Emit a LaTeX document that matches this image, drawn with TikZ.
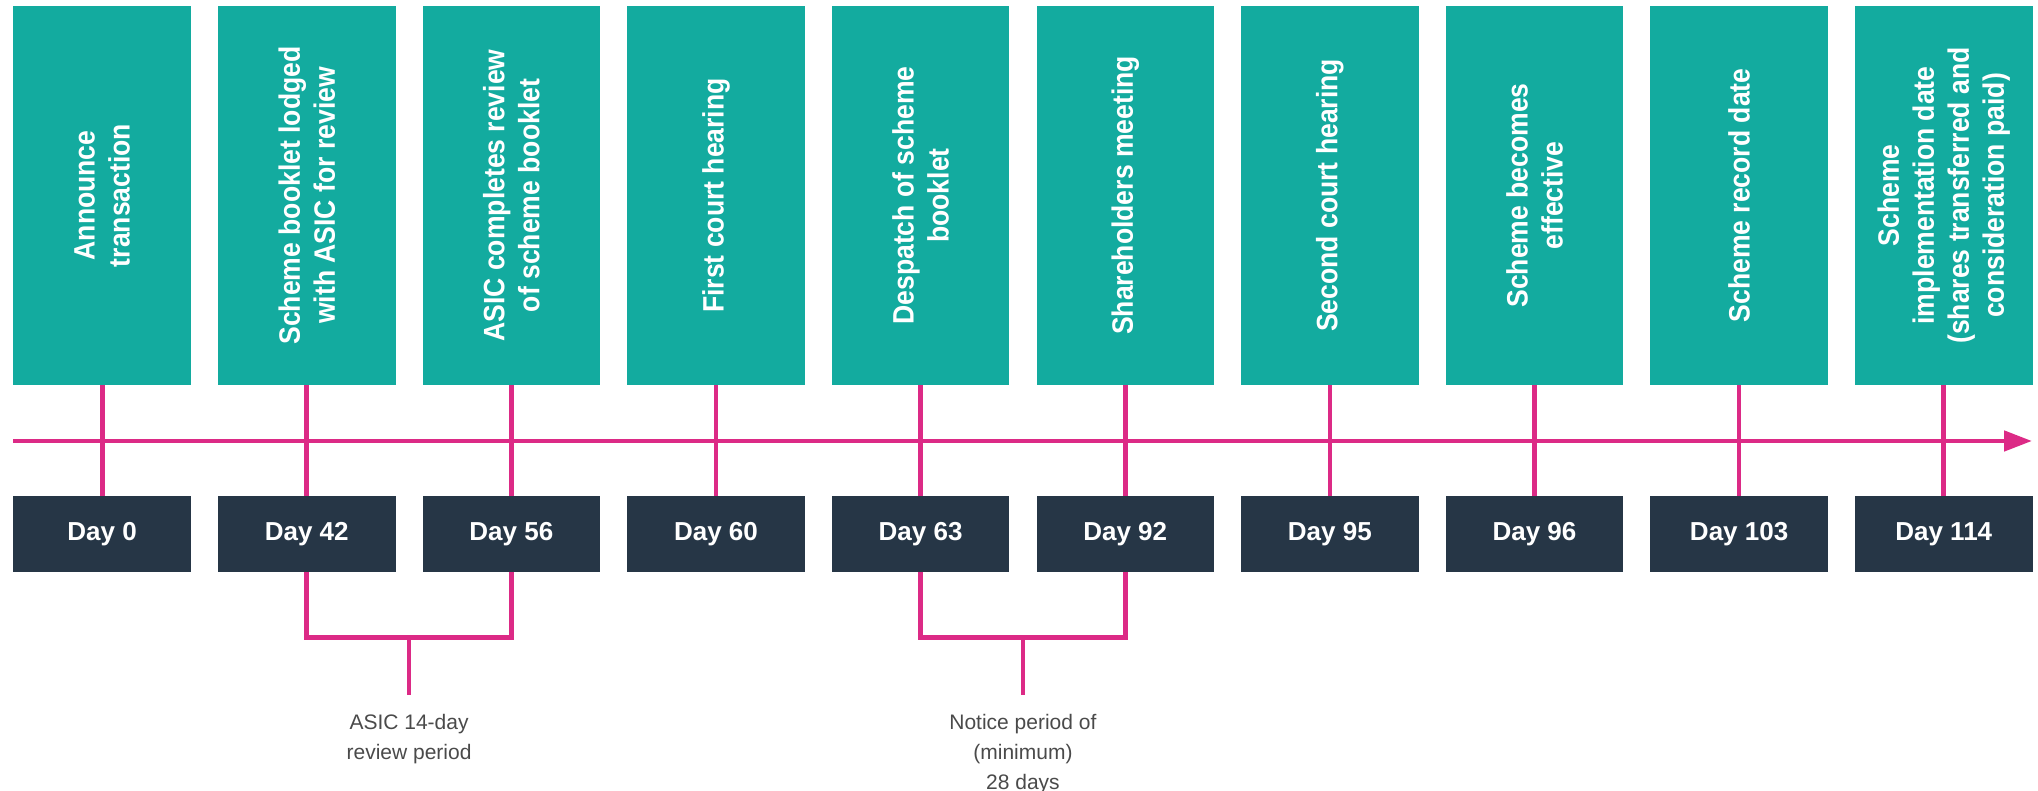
\documentclass[tikz,border=0pt]{standalone}
\usepackage{fontspec}
\setmainfont{Liberation Sans}
\newfontfamily\stagefont[FakeStretch=0.9]{Liberation Sans}
\usetikzlibrary{arrows.meta,calc}

\definecolor{stageteal}{HTML}{13AB9F}
\definecolor{daynavy}{HTML}{263646}
\definecolor{linepink}{HTML}{DC2A86}
\definecolor{notegray}{HTML}{4A4A4A}

\begin{document}
\begin{tikzpicture}[x=1pt,y=1pt,
  stagebox/.style={fill=stageteal, minimum width=177.5pt, minimum height=379pt, inner sep=0pt},
  stagetext/.style={rotate=90, text=white, inner sep=0pt,
    font=\stagefont\bfseries\fontsize{29.5}{35}\selectfont, align=center},
  daybox/.style={fill=daynavy, minimum width=177.5pt, minimum height=75.5pt, inner sep=0pt,
    text=white, font=\bfseries\fontsize{26}{30}\selectfont},
  link/.style={draw=linepink, line width=4.7pt},
  note/.style={text=notegray, inner sep=0pt, font=\fontsize{21}{30}\selectfont, align=center}]

\useasboundingbox (0,0) rectangle (2038,791);

% stage boxes with rotated captions, and the day boxes beneath them
\foreach \i/\txt/\day in {
  1/{Announce\\transaction}/0,
  2/{Scheme booklet lodged\\with ASIC for review}/42,
  3/{ASIC completes review\\of scheme booklet}/56,
  4/{First court hearing}/60,
  5/{Despatch of scheme\\booklet}/63,
  6/{Shareholders meeting}/92,
  7/{Second court hearing}/95,
  8/{Scheme becomes\\effective}/96,
  9/{Scheme record date}/103,
  10/{Scheme\\implementation date\\(shares transferred and\\consideration paid)}/114}
{
  \node[stagebox] (t\i) at ({102.15+204.62*(\i-1)}, 595.5) {};
  \node[stagetext] (s\i) at (t\i.center) {\txt};
  \node[daybox] (d\i) at ({102.15+204.62*(\i-1)}, 256.75) {Day \day};
}

% time axis
\coordinate (axisstart) at (13,350);
\coordinate (axisend) at (2032,350);
\draw[link, -{Triangle[length=28pt,width=20pt]}] (axisstart) -- (axisend);

% ticks joining each stage to its day
\foreach \i in {1,...,10}{
  \draw[link] (t\i.south) -- (d\i.north);
}

% ASIC review bracket
\coordinate (b1) at ($(d2.south)!0.5!(d3.south)+(0,-65.5)$);
\coordinate (e1) at ($(b1)+(0,-57.5)$);
\draw[link] (d2.south) |- (b1) -| (d3.south);
\draw[link] (b1) -- (e1);
\node[note, anchor=north] (n1) at ($(e1)+(0,-19)$) {ASIC 14-day\\review period};

% notice period bracket
\coordinate (b2) at ($(d5.south)!0.5!(d6.south)+(0,-65.5)$);
\coordinate (e2) at ($(b2)+(0,-57.5)$);
\draw[link] (d5.south) |- (b2) -| (d6.south);
\draw[link] (b2) -- (e2);
\node[note, anchor=north] (n2) at ($(e2)+(0,-19)$) {Notice period of\\(minimum)\\28 days};

\end{tikzpicture}
\end{document}
